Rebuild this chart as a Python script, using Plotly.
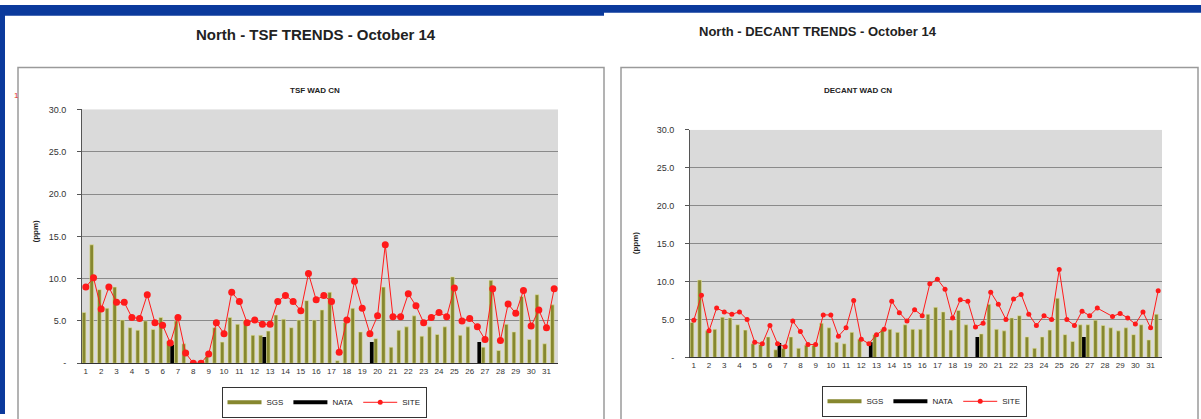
import plotly.graph_objects as go

W, H = 1201, 419

# ---------------- data ----------------
days = [str(d) for d in range(1, 32)]
samples = list(range(1, 63))          # two samples per day
tick_pos = samples[::2]
y_ticks = [0, 5, 10, 15, 20, 25, 30]
y_tick_text = ["-", "5.0", "10.0", "15.0", "20.0", "25.0", "30.0"]

tsf_sgs = [6.0, 14.0, 8.7, 6.5, 9.0, 5.1, 4.2, 3.9, 5.0, 4.0,
           5.4, 2.6, 5.0, 2.3, 0.0, 0.0, 0.8, 4.2, 2.5, 5.4,
           4.6, 5.1, 3.3, 3.3, 3.8, 5.7, 5.2, 4.2, 5.1, 7.4,
           5.1, 6.3, 8.4, 0.3, 4.8, 6.5, 3.7, None, 2.9, 9.0,
           1.9, 3.9, 4.3, 5.6, 3.2, 4.3, 3.4, 4.3, 10.2, 3.3,
           4.3, None, 1.9, 9.8, 1.5, 4.6, 3.7, 7.9, 2.8, 8.1,
           2.3, 6.9]
tsf_nata = [None, None, None, None, None, None, None, None, None, None,
            None, 2.2, None, None, None, None, None, None, None, None,
            None, None, None, 3.1, None, None, None, None, None, None,
            None, None, None, None, None, None, None, 2.5, None, None,
            None, None, None, None, None, None, None, None, None, None,
            None, 2.5, None, None, None, None, None, None, None, None,
            None, None]
tsf_site = [9.0, 10.1, 6.4, 9.0, 7.2, 7.2, 5.4, 5.3, 8.1, 4.8,
            4.5, 2.4, 5.4, 1.2, 0.0, 0.0, 1.1, 4.8, 3.5, 8.4,
            7.3, 4.8, 5.1, 4.6, 4.6, 7.3, 8.0, 7.3, 6.2, 10.6,
            7.5, 8.0, 7.3, 1.3, 5.1, 9.7, 6.5, 3.5, 5.6, 14.0,
            5.5, 5.5, 8.2, 6.8, 4.8, 5.4, 6.0, 5.5, 8.9, 5.0,
            5.3, 4.3, 2.8, 8.8, 2.7, 7.0, 5.9, 8.6, 4.4, 6.3,
            4.2, 8.8]

dec_sgs = [4.6, 10.2, 3.5, 3.7, 5.3, 5.2, 4.3, 3.6, 1.8, 1.7,
           2.7, 1.0, 1.2, 2.7, 1.2, 1.6, 1.6, 4.5, 3.9, 2.0,
           1.8, 3.3, 2.4, None, 3.0, 3.7, 3.7, 3.3, 4.3, 3.7,
           3.7, 5.7, 6.6, 6.0, 3.6, 6.2, 4.3, None, 3.1, 7.0,
           3.7, 3.5, 5.2, 5.5, 2.7, 1.2, 2.7, 3.6, 7.8, 3.0,
           2.1, 4.3, 4.3, 4.9, 4.2, 3.9, 3.5, 3.9, 3.0, 4.3,
           2.3, 5.7]
dec_nata = [None, None, None, None, None, None, None, None, None, None,
            None, 1.9, None, None, None, None, None, None, None, None,
            None, None, None, 2.0, None, None, None, None, None, None,
            None, None, None, None, None, None, None, 2.7, None, None,
            None, None, None, None, None, None, None, None, None, None,
            None, 2.7, None, None, None, None, None, None, None, None,
            None, None]
dec_site = [4.9, 8.2, 3.5, 6.5, 6.0, 5.7, 6.0, 5.0, 2.0, 1.8,
            4.2, 1.8, 1.4, 4.8, 3.4, 1.7, 1.7, 5.6, 5.6, 2.8,
            3.9, 7.5, 2.4, 1.8, 3.0, 3.7, 7.4, 5.9, 4.8, 6.3,
            5.5, 9.7, 10.3, 9.0, 5.2, 7.6, 7.4, 4.0, 4.5, 8.6,
            7.0, 5.0, 7.7, 8.3, 5.7, 4.2, 5.5, 5.0, 11.6, 5.0,
            4.2, 6.1, 5.5, 6.5, None, 5.4, 5.8, 5.2, 4.4, 6.0,
            3.9, 8.8]

# ---------------- styles ----------------
FONT = "Liberation Sans, Arial, sans-serif"
OLIVE = "#86872f"
OLIVE_EDGE = "#e2e29a"
RED = "#ff1a1a"
BLUE = "#0b3a9c"


def px(x):
    return x / W


def py(y):
    return 1 - y / H


fig = go.Figure()


def add_panel(sgs, nata, site, xa, ya, legend, msize):
    fig.add_trace(go.Bar(x=samples, y=sgs, name="SGS", marker=dict(color=OLIVE, line=dict(color=OLIVE_EDGE, width=0.6)),
                         xaxis=xa, yaxis=ya, showlegend=False))
    fig.add_trace(go.Bar(x=samples, y=nata, name="NATA", marker=dict(color="#000000", line=dict(width=0)),
                         xaxis=xa, yaxis=ya, showlegend=False))
    fig.add_trace(go.Scatter(x=samples, y=site, name="SITE", mode="lines+markers", connectgaps=True,
                             line=dict(color=RED, width=1),
                             marker=dict(color=RED, size=msize, symbol="circle"),
                             xaxis=xa, yaxis=ya, showlegend=False))
    # legend entries (Excel-style line keys)
    fig.add_trace(go.Scatter(x=[None], y=[None], name="SGS", mode="lines", line=dict(color=OLIVE, width=4),
                             xaxis=xa, yaxis=ya, legend=legend))
    fig.add_trace(go.Scatter(x=[None], y=[None], name="NATA", mode="lines", line=dict(color="#000000", width=4),
                             xaxis=xa, yaxis=ya, legend=legend))
    fig.add_trace(go.Scatter(x=[None], y=[None], name="SITE", mode="lines+markers", line=dict(color=RED, width=1),
                             marker=dict(color=RED, size=5), xaxis=xa, yaxis=ya, legend=legend))


add_panel(tsf_sgs, tsf_nata, tsf_site, "x", "y", "legend", 7)
add_panel(dec_sgs, dec_nata, dec_site, "x2", "y2", "legend2", 5)

xcommon = dict(range=[0.5, 62.5], tickmode="array", tickvals=tick_pos, ticktext=days,
               tickfont=dict(size=8, color="#333", family=FONT), showline=True, linecolor="#333",
               linewidth=1, showgrid=False, ticks="", zeroline=False, fixedrange=True)
ycommon = dict(range=[0, 30], tickmode="array", tickvals=y_ticks, ticktext=y_tick_text,
               tickfont=dict(size=9, color="#333", family=FONT), showline=True, linecolor="#555",
               linewidth=1, showgrid=True, gridcolor="#8a8a8a", gridwidth=1, ticks="outside",
               ticklen=4, tickcolor="#555", zeroline=False, ticklabelstandoff=9, fixedrange=True)

fig.update_layout(
    width=W, height=H, margin=dict(l=0, r=0, t=0, b=0),
    paper_bgcolor="#ffffff", plot_bgcolor="#dadada",
    barmode="group", bargap=0.04, bargroupgap=0,
    font=dict(family=FONT, color="#222"),
    xaxis=dict(domain=[px(82), px(558)], anchor="y", **xcommon),
    yaxis=dict(domain=[py(367), py(107)], anchor="x", **ycommon),
    xaxis2=dict(domain=[px(690), px(1162)], anchor="y2", **xcommon),
    yaxis2=dict(domain=[py(361), py(128)], anchor="x2", **ycommon),
    legend=dict(orientation="h", x=px(324), y=py(407), xanchor="center", yanchor="middle",
                bordercolor="#333", borderwidth=1, bgcolor="#ffffff", itemwidth=34,
                font=dict(size=8, family=FONT, color="#222")),
    legend2=dict(orientation="h", x=px(924), y=py(406), xanchor="center", yanchor="middle",
                 bordercolor="#333", borderwidth=1, bgcolor="#ffffff", itemwidth=34,
                 font=dict(size=8, family=FONT, color="#222")),
)

shapes = [
    dict(type="rect", xref="paper", yref="paper", x0=0, x1=px(604), y0=py(11), y1=1,
         fillcolor=BLUE, line=dict(width=0), layer="above"),
    dict(type="rect", xref="paper", yref="paper", x0=px(604), x1=1, y0=py(8), y1=1,
         fillcolor=BLUE, line=dict(width=0), layer="above"),
    dict(type="rect", xref="paper", yref="paper", x0=0, x1=px(5), y0=0, y1=1,
         fillcolor=BLUE, line=dict(width=0), layer="above"),
    dict(type="rect", xref="paper", yref="paper", x0=px(18), x1=px(604), y0=py(440), y1=py(64),
         fillcolor="rgba(0,0,0,0)", line=dict(color="#9a9a9a", width=1.5), layer="below"),
    dict(type="rect", xref="paper", yref="paper", x0=px(621), x1=px(1198), y0=py(440), y1=py(64),
         fillcolor="rgba(0,0,0,0)", line=dict(color="#9a9a9a", width=1.5), layer="below"),
]
fig.update_layout(shapes=shapes)

annotations = [
    dict(text="<b>North - TSF TRENDS - October 14</b>", x=px(316), y=py(30), font=dict(size=15)),
    dict(text="<b>North - DECANT TRENDS - October 14</b>", x=px(818), y=py(27), font=dict(size=13)),
    dict(text="<b>TSF WAD CN</b>", x=px(315), y=py(88), font=dict(size=8)),
    dict(text="<b>DECANT WAD CN</b>", x=px(858), y=py(88), font=dict(size=8)),
    dict(text="<b>(ppm)</b>", x=px(35), y=py(232), textangle=-90, font=dict(size=8)),
    dict(text="<b>(ppm)</b>", x=px(635), y=py(244), textangle=-90, font=dict(size=8)),
    dict(text="1", x=px(16), y=py(93), font=dict(size=8, color="#e03020")),
]
for a in annotations:
    a.update(xref="paper", yref="paper", showarrow=False, xanchor="center", yanchor="middle")
    a["font"].setdefault("family", FONT)
    a["font"].setdefault("color", "#222")
fig.update_layout(annotations=annotations)

fig.write_html("out.html", config={"displayModeBar": False},
               post_script="document.body.style.margin='0px';document.body.style.overflow='hidden';")
